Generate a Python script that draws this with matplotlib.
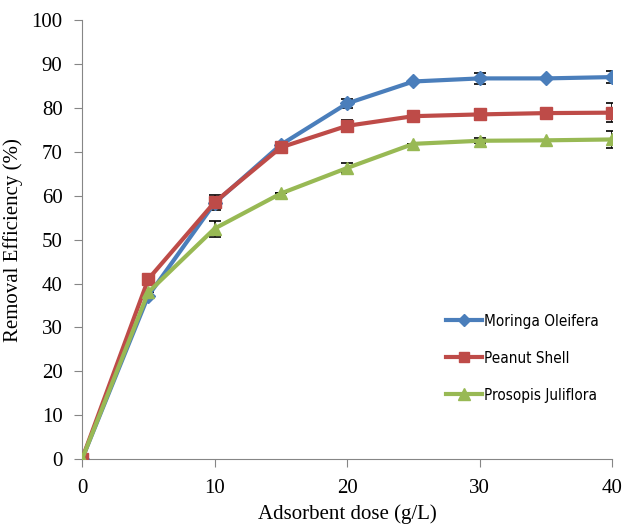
import numpy as np
import matplotlib.pyplot as plt

dose = [0, 5, 10, 15, 20, 25, 30, 35, 40]

moringa = [0, 37.2, 58.3, 71.6, 81.0, 86.0, 86.7, 86.7, 87.0]
moringa_err = [0, 0, 0, 0, 1.0, 0, 1.2, 0, 1.4]

peanut = [0, 41.0, 58.5, 71.0, 75.9, 78.1, 78.5, 78.8, 78.9]
peanut_err = [0, 0, 1.7, 0, 1.4, 0, 1.3, 0, 2.2]

prosopis = [0, 38.0, 52.5, 60.5, 66.3, 71.8, 72.5, 72.6, 72.8]
prosopis_err = [0, 0, 1.8, 0, 1.2, 0, 0.6, 0, 1.9]

series = [
    ("Moringa Oleifera", moringa, moringa_err, "#4a7ebb", "D", 7),
    ("Peanut Shell", peanut, peanut_err, "#be4b48", "s", 8),
    ("Prosopis Juliflora", prosopis, prosopis_err, "#98b954", "^", 9),
]

fig = plt.figure(figsize=(6.26, 5.26), dpi=100)
ax = fig.add_axes([0.131, 0.127, 0.847, 0.835])

lines = []
for label, vals, err, color, marker, ms in series:
    cont = ax.errorbar(dose, vals, yerr=err, color=color, lw=3, marker=marker,
                       markersize=ms, ecolor="black", elinewidth=1.2,
                       capsize=4, capthick=1.2, label=label, zorder=3)
    lines.append(cont.lines[0])

ax.set_xlim(0, 40)
ax.set_ylim(0, 100)
ax.set_xticks([0, 10, 20, 30, 40])
ax.set_yticks(np.arange(0, 101, 10))
ax.spines[["top", "right"]].set_visible(False)
for side in ["left", "bottom"]:
    ax.spines[side].set_color("#868686")
ax.tick_params(direction="out", length=6, color="#868686", pad=8,
               labelsize=15)
for t in ax.get_xticklabels() + ax.get_yticklabels():
    t.set_fontfamily("Liberation Serif")

ax.set_xlabel("Adsorbent dose (g/L)", fontsize=15, family="Liberation Serif",
              labelpad=5)
ax.set_ylabel("Removal Efficiency (%)", fontsize=15,
              family="Liberation Serif", labelpad=6)

# legend shows only the line + marker, no error bars
ax.legend(lines, [s[0] for s in series], loc="upper left",
          bbox_to_anchor=(0.66, 0.363), frameon=False,
          prop={"family": "DejaVu Sans", "stretch": "condensed", "size": 11},
          handlelength=2.4, labelspacing=1.45, handletextpad=0.1,
          markerscale=0.9)

fig.savefig("out.png", dpi=100)
